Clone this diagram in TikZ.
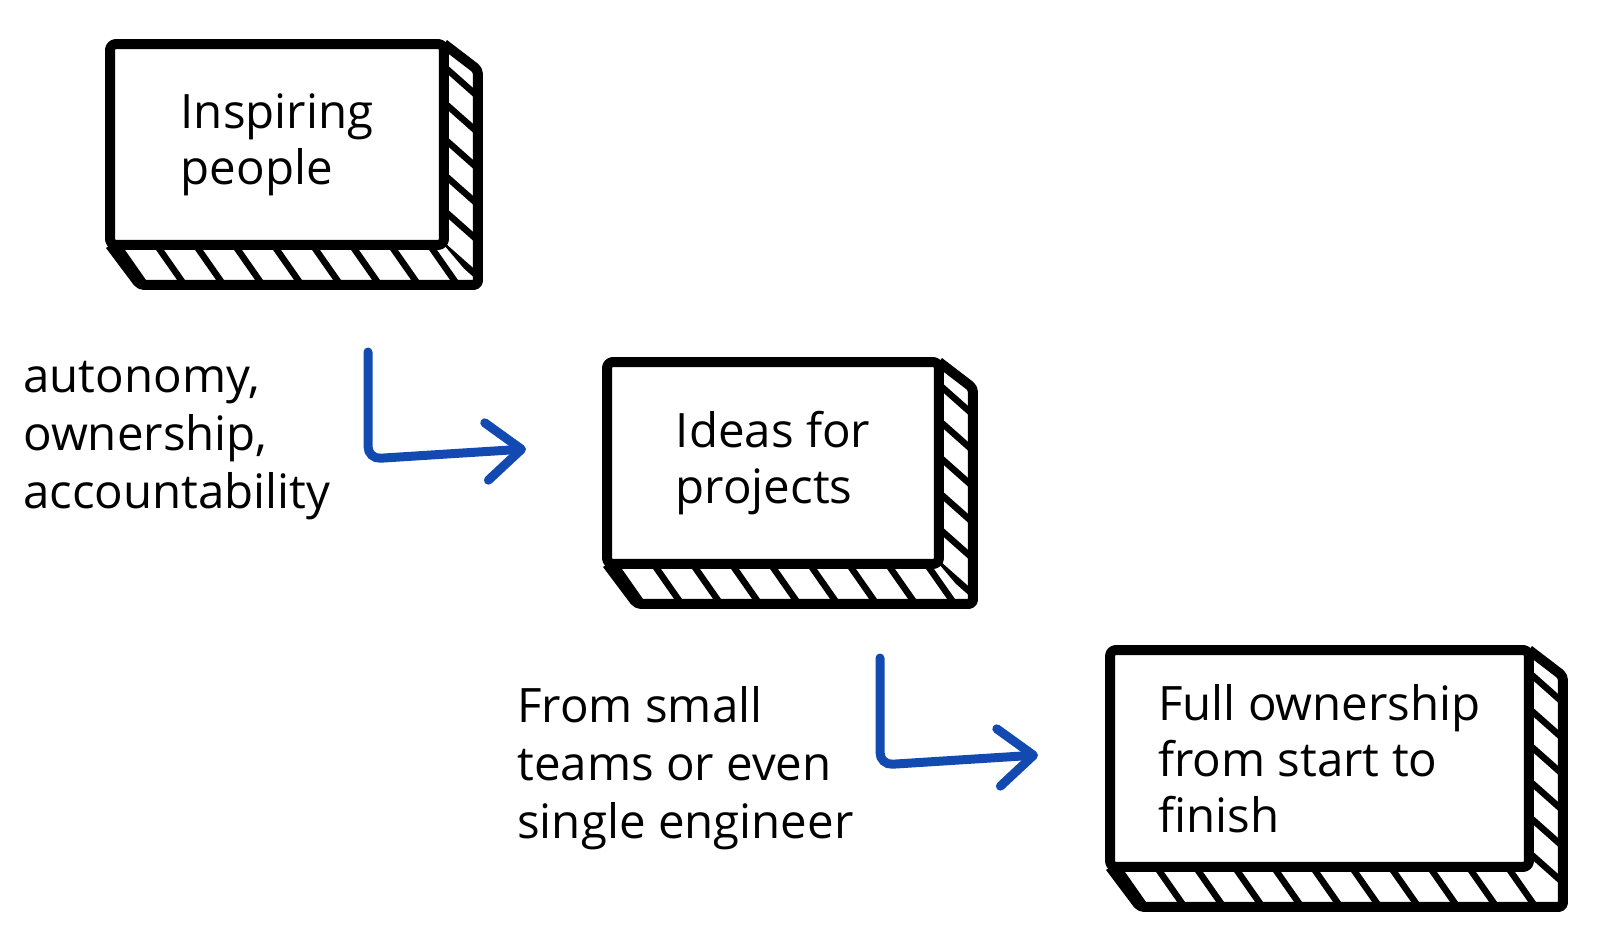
\documentclass[tikz,border=0pt]{standalone}
\usepackage{fontspec}
\setmainfont{Open Sans}
\usetikzlibrary{arrows.meta}
\definecolor{arrowblue}{RGB}{18,74,178}

\begin{document}
\begin{tikzpicture}[x=0.02cm, y=-0.02cm,
  box/.style={draw, fill=white, line width=0.2cm, rounded corners=0.12cm, line join=round, align=left, inner sep=0pt, outer sep=0pt, font=\fontsize{27}{32}\selectfont},
  face/.style={draw, line width=0.2cm, line join=round, rounded corners=0.08cm},
  hatch/.style={line width=0.13cm},
  note/.style={align=left, inner sep=0pt, anchor=north west, font=\fontsize{27}{33}\selectfont},
  flow/.style={draw=arrowblue, line width=0.18cm, line cap=round, rounded corners=0.25cm, -{Straight Barb[length=0.7cm, width=1.15cm, round]}}]

\useasboundingbox (0,0) rectangle (1600,942);

\path (277,144.5) node[box, minimum width=6.68cm, minimum height=4.02cm] (b1) {Inspiring\\people}
      (773,463) node[box, minimum width=6.64cm, minimum height=4.04cm] (b2) {Ideas for\\projects}
      (1319.5,758.5) node[box, minimum width=8.38cm, minimum height=4.34cm] (b3) {Full ownership\\from start to\\finish};

\foreach \b in {b1, b2, b3} {
  \begin{scope}
    \clip (\b.south west) -- ([shift={(30,40)}]\b.south west) -- ([shift={(34,40)}]\b.south east) -- (\b.south east) -- cycle;
    \foreach \i in {0,...,12}
      \draw[hatch] ([shift={(\i*39+4,-5)}]\b.south west) -- ++(35,50);
  \end{scope}
  \begin{scope}
    \clip (\b.north east) -- ([shift={(34,26)}]\b.north east) -- ([shift={(34,40)}]\b.south east) -- (\b.south east) -- cycle;
    \foreach \j in {0,...,7}
      \draw[hatch] ([shift={(-5,\j*36+18)}]\b.north east) -- ++(44,39);
  \end{scope}
  \draw[face] (\b.north east) -- ([shift={(34,26)}]\b.north east) -- ([shift={(34,40)}]\b.south east) -- ([shift={(30,40)}]\b.south west) -- (\b.south west);
}

\path (23,361) node[note] (t1) {autonomy,\\ownership,\\accountability}
      (517,686) node[note] (t2) {From small\\teams or even\\single engineer};

\coordinate (a1s) at (368,352);
\coordinate (a1c) at (368,459);
\coordinate (a1e) at (526,449);
\coordinate (a2s) at (880,658);
\coordinate (a2c) at (880,765);
\coordinate (a2e) at (1038,755);

\draw[flow] (a1s) -- (a1c) -- (a1e);
\draw[flow] (a2s) -- (a2c) -- (a2e);
\end{tikzpicture}
\end{document}
